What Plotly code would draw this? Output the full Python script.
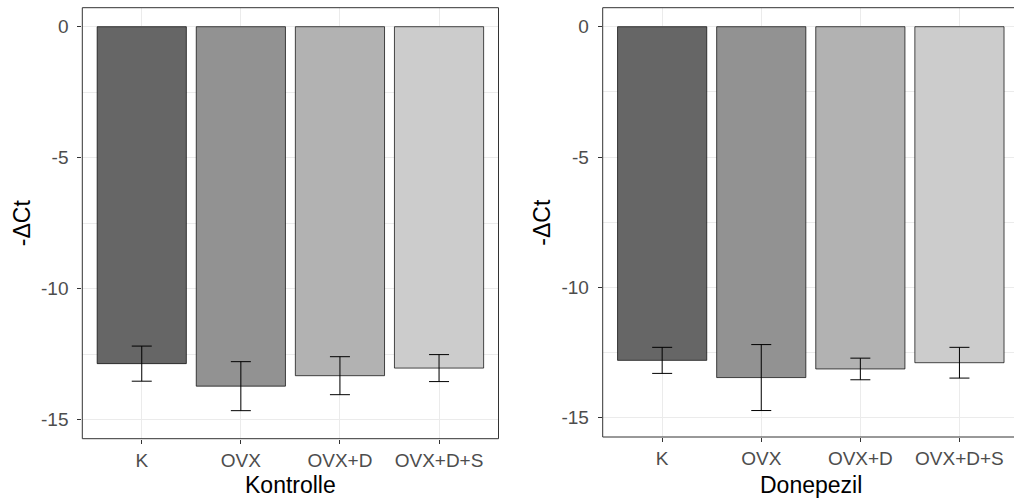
import plotly.graph_objects as go

categories = ["K", "OVX", "OVX+D", "OVX+D+S"]
kontrolle_mean = [-12.86, -13.72, -13.32, -13.03]
kontrolle_err = [0.67, 0.935, 0.725, 0.515]
donepezil_mean = [-12.80, -13.46, -13.13, -12.89]
donepezil_err = [0.50, 1.265, 0.415, 0.59]
fill_colors = ["#666666", "#929292", "#B2B2B2", "#CCCCCC"]
y_tick_vals = [0, -5, -10, -15]
y_tick_text = ["0", "-5", "-10", "-15"]
panel_titles = ["Kontrolle", "Donepezil"]
y_title = "-ΔCt"

W, H = 1014, 502


def fx(p):
    return p / W


def fy(p):
    return 1 - p / H


FONT = "Liberation Sans, Arial, Helvetica, sans-serif"

fig = go.Figure()
for means, errs, xa, ya in [(kontrolle_mean, kontrolle_err, "x", "y"),
                            (donepezil_mean, donepezil_err, "x2", "y2")]:
    fig.add_trace(go.Bar(
        x=categories, y=means, xaxis=xa, yaxis=ya, width=0.9,
        marker=dict(color=fill_colors, line=dict(color="#000000", width=0.7)),
        error_y=dict(type="data", array=errs, visible=True, color="#000000",
                     thickness=1, width=10),
        showlegend=False, hoverinfo="x+y",
    ))

# panel geometry (pixels)
L1, R1, T1, B1 = 82.3, 498.5, 7.7, 438.7
L2, R2, T2, B2 = 602.7, 1019.6, 7.7, 437.0
spacing = (R1 - L1) / 4.2

axis_common = dict(
    showline=False, ticks="outside", ticklen=4, tickwidth=1, tickcolor="#333333",
    tickfont=dict(family=FONT, size=19, color="#4D4D4D"),
    showgrid=True, gridcolor="#EBEBEB", gridwidth=1, zeroline=False,
)

fig.update_layout(
    width=W, height=H, margin=dict(l=0, r=0, t=0, b=0),
    paper_bgcolor="white", plot_bgcolor="white",
    bargap=0.1,
    xaxis=dict(domain=[fx(L1), fx(R1)], range=[-0.6, 3.6], anchor="y",
               type="category", ticklabelstandoff=0, **axis_common),
    yaxis=dict(domain=[fy(B1), fy(T1)], range=[-15.725, 0.725], anchor="x",
               tickvals=y_tick_vals, ticktext=y_tick_text, ticklabelstandoff=5,
               minor=dict(dtick=2.5, tick0=0, showgrid=True, gridcolor="#EBEBEB",
                          gridwidth=0.5, ticks=""),
               **axis_common),
    xaxis2=dict(domain=[fx(L2), 1.0], range=[-0.6, -0.6 + (W - L2) / spacing],
                anchor="y2", type="category", ticklabelstandoff=0, **axis_common),
    yaxis2=dict(domain=[fy(B2), fy(T2)], range=[-15.74, 0.729], anchor="x2",
                tickvals=y_tick_vals, ticktext=y_tick_text, ticklabelstandoff=5,
                minor=dict(dtick=2.5, tick0=0, showgrid=True, gridcolor="#EBEBEB",
                           gridwidth=0.5, ticks=""),
                **axis_common),
)

# panel borders
for (l, r, t, b) in [(L1, R1, T1, B1), (L2, R2, T2, B2)]:
    fig.add_shape(type="rect", xref="paper", yref="paper",
                  x0=fx(l), x1=fx(r), y0=fy(b), y1=fy(t),
                  line=dict(color="#333333", width=1), fillcolor="rgba(0,0,0,0)",
                  layer="above")

# axis titles
fig.add_annotation(text=panel_titles[0], xref="paper", yref="paper",
                   x=fx((L1 + R1) / 2), y=fy(485), showarrow=False,
                   font=dict(family=FONT, size=23, color="black"),
                   xanchor="center", yanchor="middle")
fig.add_annotation(text=panel_titles[1], xref="paper", yref="paper",
                   x=fx((L2 + R2) / 2), y=fy(485), showarrow=False,
                   font=dict(family=FONT, size=23, color="black"),
                   xanchor="center", yanchor="middle")
for xc, (t, b) in [(22, (T1, B1)), (542.4, (T2, B2))]:
    fig.add_annotation(text=y_title, xref="paper", yref="paper",
                       x=fx(xc), y=fy((t + b) / 2), showarrow=False, textangle=-90,
                       font=dict(family=FONT, size=23, color="black"),
                       xanchor="center", yanchor="middle")

fig.write_html("out.html")
